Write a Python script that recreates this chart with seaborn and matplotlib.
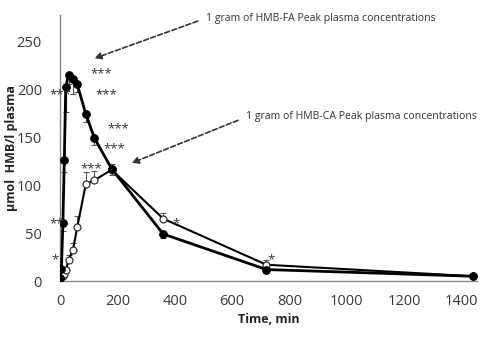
import matplotlib
matplotlib.use("Agg")
import matplotlib.pyplot as plt
import numpy as np
import pandas as pd
import seaborn as sns

# sampling times (min)
time_min = [0, 5, 10, 15, 20, 30, 45, 60, 90, 120, 180, 360, 720, 1440]
# HMB-FA (filled circles), umol/l
fa_mean = [3, 13, 60, 126, 202, 215, 210, 205, 174, 149, 117, 49, 12, 5]
fa_err = [1, 3, 8, 12, 26, 10, 15, 8, 8, 7, 6, 4, 2, 1]
# HMB-CA (open circles), umol/l
ca_mean = [3, 4, 5, 7, 11, 22, 32, 56, 101, 105, 116, 65, 17, 5]
ca_err = [1, 1, 2, 3, 4, 5, 8, 12, 13, 10, 6, 6, 5, 1]

# significance marks
sig_t = [105, -38, 122, 164, 150, 70, -38, -30, 393, 722]
sig_y = [216, 194, 194, 159, 138, 117, 60, 22, 60, 22]
sig_txt = ["***", "***", "***", "***", "***", "***", "**", "*", "*", "*"]

label_fa = "1 gram of HMB-FA Peak plasma concentrations"
label_ca = "1 gram of HMB-CA Peak plasma concentrations"

df = pd.DataFrame({
    "time": time_min * 2,
    "hmb": fa_mean + ca_mean,
    "form": ["FA"] * len(time_min) + ["CA"] * len(time_min),
})

sns.set_style("white")
plt.rcParams["font.family"] = ["Open Sans", "DejaVu Sans"]

fig = plt.figure(figsize=(4.82, 3.37), dpi=100)
ax = fig.add_axes([0.1245, 0.166, 0.8655, 0.789])

# error bars first so lines sit on top
ax.errorbar(time_min, ca_mean, yerr=[np.zeros(len(ca_err)), ca_err], fmt="none",
            ecolor="#555555", elinewidth=0.8, capsize=2.5, capthick=0.8, zorder=1)
ax.errorbar(time_min, fa_mean, yerr=[fa_err, np.zeros(len(fa_err))], fmt="none",
            ecolor="#555555", elinewidth=0.8, capsize=2.5, capthick=0.8, zorder=1)

sns.lineplot(data=df[df.form == "CA"], x="time", y="hmb", ax=ax, color="black",
             linewidth=1.5, marker="o", markersize=5, markerfacecolor="white",
             markeredgecolor="#333333", markeredgewidth=0.9, zorder=2)
sns.lineplot(data=df[df.form == "FA"], x="time", y="hmb", ax=ax, color="black",
             linewidth=2.0, marker="o", markersize=5.5, markerfacecolor="black",
             markeredgecolor="black", zorder=3)

for t, y, s in zip(sig_t, sig_y, sig_txt):
    ax.text(t, y, s, ha="left", va="center", fontsize=9.5, color="#333333",
            clip_on=False)

# dashed callout arrows
ax.annotate(label_fa, xy=(120, 232), xytext=(510, 274), textcoords="data",
            fontsize=7.6, color="#333333", va="center", ha="left",
            annotation_clip=False,
            arrowprops=dict(arrowstyle="-|>", linestyle=(0, (3, 1.5)),
                            color="#333333", lw=1.2, mutation_scale=10,
                            relpos=(0, 0.5), shrinkA=4, shrinkB=0))
ax.annotate(label_ca, xy=(250, 123), xytext=(650, 171), textcoords="data",
            fontsize=7.6, color="#333333", va="center", ha="left",
            annotation_clip=False,
            arrowprops=dict(arrowstyle="-|>", linestyle=(0, (3, 1.5)),
                            color="#333333", lw=1.2, mutation_scale=10,
                            relpos=(0, 0.5), shrinkA=4, shrinkB=0))

ax.set_xlim(0, 1455)
ax.set_ylim(0, 277)
ax.set_xticks(np.arange(0, 1401, 200))
ax.set_yticks(np.arange(0, 251, 50))
ax.tick_params(axis="x", direction="in", length=3, color="#888888",
               labelsize=10.5, labelcolor="#3a3a3a", pad=9)
ax.tick_params(axis="y", direction="in", length=3, color="#888888",
               labelsize=10.5, labelcolor="#3a3a3a", pad=13)
sns.despine(ax=ax)
for side in ["left", "bottom"]:
    ax.spines[side].set_color("#888888")
    ax.spines[side].set_linewidth(1.0)

ax.set_xlabel("Time, min", fontsize=9, fontweight="bold", color="#222222",
              labelpad=3)
ax.set_ylabel("µmol  HMB/l plasma", fontsize=9, fontweight="bold",
              color="#222222")
ax.yaxis.set_label_coords(-0.10, 0.5)

fig.savefig("out.png", dpi=100)
